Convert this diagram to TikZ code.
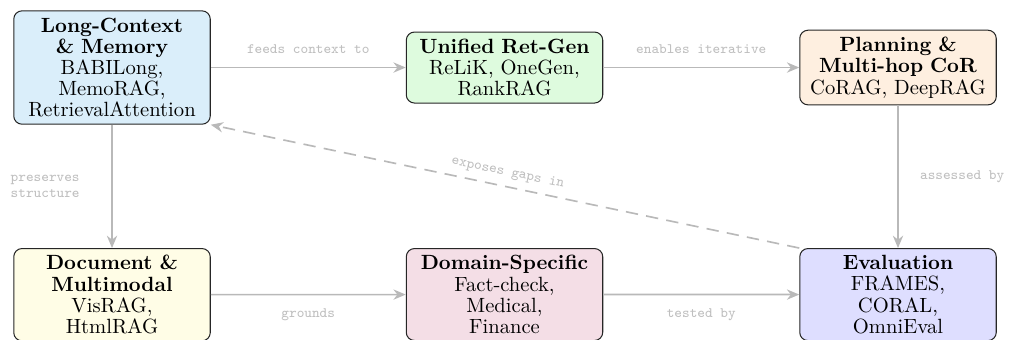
\documentclass[tikz,border=0pt]{standalone}
\usepackage{amsmath}
\usepackage{tikz}
\usetikzlibrary{arrows.meta}

\definecolor{memblue}{RGB}{218,238,250}
\definecolor{retgreen}{RGB}{222,251,222}
\definecolor{planorange}{RGB}{254,239,224}
\definecolor{docyellow}{RGB}{255,253,230}
\definecolor{dompink}{RGB}{244,222,230}
\definecolor{evalblue}{RGB}{222,222,255}

\begin{document}
\begin{tikzpicture}[
	box/.style={draw=black!85, line width=0.5pt, rounded corners=4pt, align=center, text width=3.12cm, inner sep=3.33pt, font=\fontsize{10pt}{10.3pt}\selectfont},
	flow/.style={draw=gray!55, line width=0.8pt, -{Stealth[length=6pt, width=5pt]}},
	lbl/.style={font=\scriptsize\ttfamily, text=gray!50}]
	\useasboundingbox (0,0) rectangle (17.258,5.787);
	\node[box, fill=memblue] (longctx) at (1.912,4.634) {\textbf{Long-Context}\\\textbf{\& Memory}\\BABILong,\\MemoRAG,\\RetrievalAttention};
	\node[box, fill=retgreen] (unified) at (8.612,4.634) {\textbf{Unified Ret-Gen}\\ReLiK, OneGen,\\RankRAG};
	\node[box, fill=planorange] (planning) at (15.329,4.634) {\textbf{Planning \&}\\\textbf{Multi-hop CoR}\\CoRAG, DeepRAG};
	\node[box, fill=docyellow, anchor=north] (docmm) at (1.912,1.553) {\textbf{Document \&}\\\textbf{Multimodal}\\VisRAG,\\HtmlRAG};
	\node[box, fill=dompink, anchor=north] (domain) at (8.612,1.553) {\textbf{Domain-Specific}\\Fact-check,\\Medical,\\Finance};
	\node[box, fill=evalblue, anchor=north] (evaluation) at (15.329,1.553) {\textbf{Evaluation}\\FRAMES,\\CORAL,\\OmniEval};
	\draw[flow] (longctx) -- (unified) node[lbl, midway, above=3pt]{feeds context to};
	\draw[flow] (unified) -- (planning) node[lbl, midway, above=3pt]{enables iterative};
	\draw[flow] (planning) -- (evaluation) node[lbl, midway, right=7pt]{assessed by};
	\draw[flow] (longctx) -- (docmm) node[lbl, midway, left=12pt, align=left]{preserves\\structure};
	\draw[flow] (docmm) -- (domain) node[lbl, midway, below=3pt]{grounds};
	\draw[flow] (domain) -- (evaluation) node[lbl, midway, below=3pt]{tested by};
	\draw[flow, dash pattern=on 6pt off 4pt] (evaluation.north west) -- (longctx.south east) node[lbl, midway, sloped, above]{exposes gaps in};
\end{tikzpicture}
\end{document}
